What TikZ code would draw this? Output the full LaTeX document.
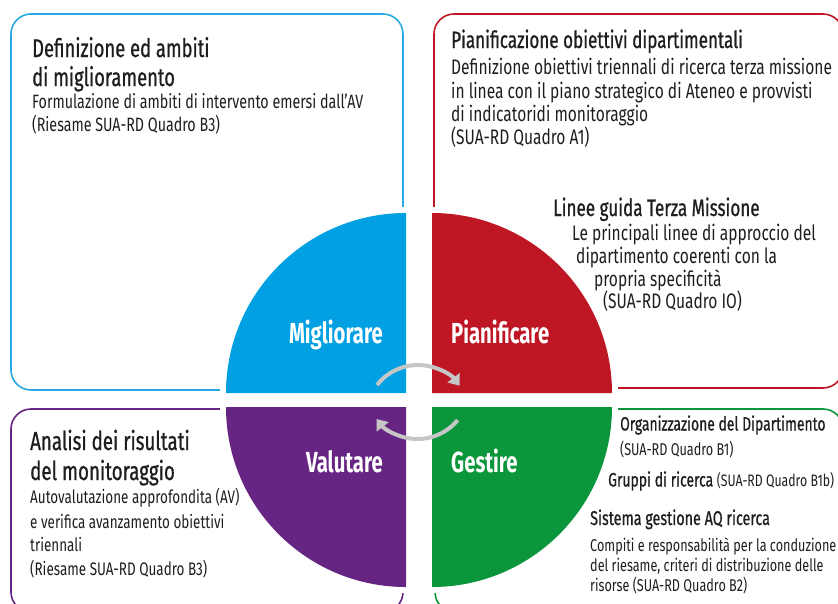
\documentclass[tikz,border=0pt]{standalone}
\usepackage{fontspec}
\setmainfont[FakeStretch=0.74]{Fira Sans}
\newfontfamily\ttlfont[FakeStretch=0.72,FakeBold=0.8]{Fira Sans}
\newfontfamily\qfont[FakeStretch=0.70]{Fira Sans}
\usetikzlibrary{arrows.meta}
\definecolor{cblue}{RGB}{0,160,227}
\definecolor{cblueL}{RGB}{40,168,224}
\definecolor{cred}{RGB}{190,22,34}
\definecolor{cgreen}{RGB}{12,150,60}
\definecolor{cpurple}{RGB}{102,36,131}
\definecolor{cgray}{RGB}{198,198,198}
\definecolor{ctext}{RGB}{30,30,30}
\newcommand{\fsz}[1]{\fontsize{#1}{#1}\selectfont}
\begin{document}
\begin{tikzpicture}[x=1pt,y=-1pt,
  ln/.style={anchor=base west, inner sep=0pt, text=ctext},
  ttl/.style={ln, font=\ttlfont\fsz{25.5}},
  bd/.style={ln, font=\fsz{19.3}},
  rb/.style={ln, font=\fsz{21}},
  gb/.style={ln, font=\fsz{17.1}},
  pb/.style={ln, font=\fsz{18.2}},
  ql/.style={inner sep=0pt, text=white, font=\qfont\bfseries\fsz{29}},
  box/.style={line width=1.6pt, rounded corners=20pt},
  quad/.style={preaction={draw=white, line width=12pt}},
  cyc/.style={draw=cgray, line width=4pt, -{Triangle[length=10pt,width=15pt]}}
]
\useasboundingbox (0,0) rectangle (838,603);
\begin{scope}
\clip (0,0) rectangle (838,603);
\draw[box, cblueL] (11,14) rectangle (403,390);
\draw[box, cred] (434,14) rectangle (843,388);
\draw[box, cpurple] (11,409) rectangle (403,612);
\draw[box, cgreen] (435,409) rectangle (843,612);

\fill[quad, cblue] (406,393) -- (226,393) arc[start angle=180, end angle=270, radius=180] -- cycle;
\fill[quad, cred] (432,393) -- (432,213) arc[start angle=270, end angle=360, radius=180] -- cycle;
\fill[quad, cgreen] (432,407) -- (612,407) arc[start angle=0, end angle=90, radius=180] -- cycle;
\fill[quad, cpurple] (406,407) -- (406,587) arc[start angle=90, end angle=180, radius=180] -- cycle;

\coordinate (cu) at (418,417);
\coordinate (cl) at (417.5,387);
\draw[cyc] ([shift={(218:52)}]cu) arc[start angle=218, end angle=323, radius=52];
\draw[cyc] ([shift={(39.5:52)}]cl) arc[start angle=39.5, end angle=142, radius=52];

\node[ql, anchor=base east] (qm) at (383,343) {Migliorare};
\node[ql, anchor=base west] (qp) at (451,343) {Pianificare};
\node[ql, anchor=base east] (qv) at (383,472.5) {Valutare};
\node[ql, anchor=base west] (qg) at (451,472.5) {Gestire};

% blue box
\node[ttl] (b1) at (32,57) {Definizione ed ambiti};
\node[ttl] (b2) at (32,86) {di miglioramento};
\node[bd] (b3) at (32,108) {Formulazione di ambiti di intervento emersi dall’AV};
\node[bd] (b4) at (32,131) {(Riesame SUA-RD Quadro B3)};

% red box
\node[ttl, font=\ttlfont\fsz{23.7}] (r1) at (451,48) {Pianificazione obiettivi dipartimentali};
\node[rb] (r2) at (451,74) {Definizione obiettivi triennali di ricerca terza missione};
\node[rb] (r3) at (451,98) {in linea con il piano strategico di Ateneo e provvisti};
\node[rb] (r4) at (451,121.5) {di indicatoridi monitoraggio};
\node[rb] (r5) at (451,144) {(SUA-RD Quadro A1)};

\node[ttl, font=\ttlfont\fsz{23.7}] (l1) at (553,216) {Linee guida Terza Missione};
\node[rb] (l2) at (572,240) {Le principali linee di approccio del};
\node[rb] (l3) at (576,263) {dipartimento coerenti con la};
\node[rb] (l4) at (594,286) {propria specificità};
\node[rb] (l5) at (603,308) {(SUA-RD Quadro IO)};

% green box
\node[ttl, font=\ttlfont\fsz{19.3}] (g1) at (620,430.5) {Organizzazione del Dipartimento};
\node[gb] (g2) at (620,455) {(SUA-RD Quadro B1)};
\node[ttl, font=\ttlfont\fsz{19.4}] (g3) at (608,486.5) {Gruppi di ricerca {\normalfont\fsz{16.6}(SUA-RD Quadro B1b)}};
\node[ttl, font=\ttlfont\fsz{19.9}] (g4) at (590,525) {Sistema gestione AQ ricerca};
\node[gb] (g5) at (590,551.5) {Compiti e responsabilità per la conduzione};
\node[gb] (g6) at (590,571.5) {del riesame, criteri di distribuzione delle};
\node[gb] (g7) at (590,591.5) {risorse (SUA-RD Quadro B2)};

% purple box
\node[ttl, font=\ttlfont\fsz{26}] (p1) at (30,450) {Analisi dei risultati};
\node[ttl, font=\ttlfont\fsz{26}] (p2) at (30,480) {del monitoraggio};
\node[pb] (p3) at (30,503) {Autovalutazione approfondita (AV)};
\node[pb] (p4) at (30,528) {e verifica avanzamento obiettivi};
\node[pb] (p5) at (30,551.5) {triennali};
\node[pb] (p6) at (30,575) {(Riesame SUA-RD Quadro B3)};
\end{scope}
\end{tikzpicture}
\end{document}
